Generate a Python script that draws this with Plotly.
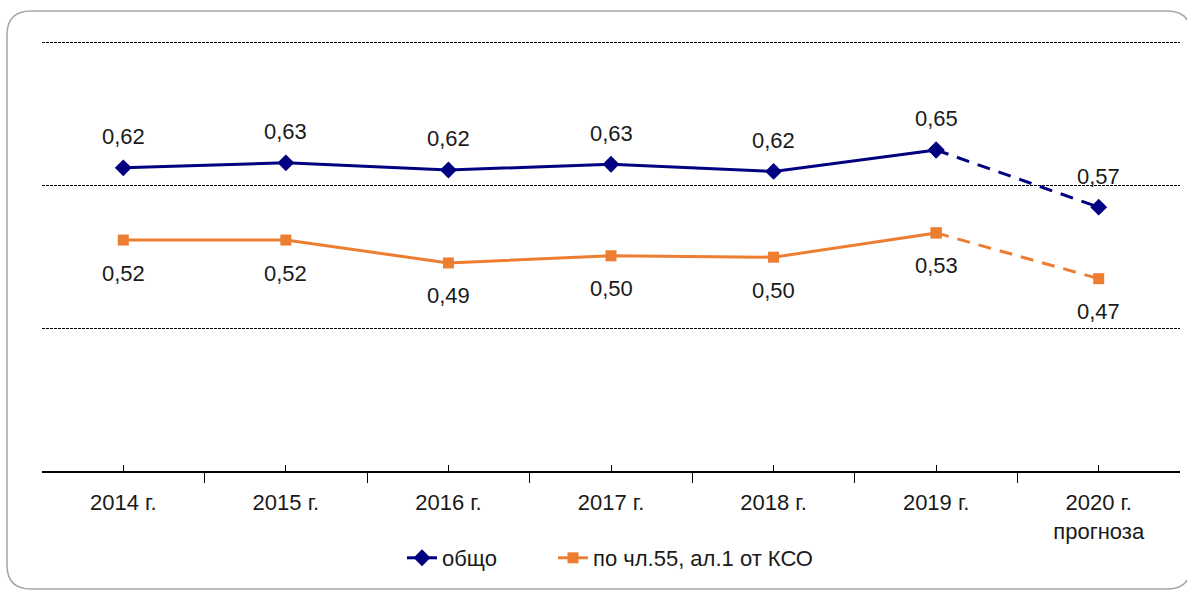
import plotly.graph_objects as go

categories = ["2014 г.", "2015 г.", "2016 г.", "2017 г.", "2018 г.", "2019 г.", "2020 г.<br>прогноза"]
total = [0.624, 0.631, 0.621, 0.629, 0.619, 0.649, 0.569]
art55 = [0.523, 0.523, 0.491, 0.501, 0.499, 0.533, 0.469]
series_names = ["общо", "по чл.55, ал.1 от КСО"]

BLUE = "#000080"
ORANGE = "#ED7D31"
FONT = "Liberation Sans, Arial, sans-serif"
TXT = "#1a1a1a"

xs = list(range(len(categories)))
n_actual = 6  # 2014-2019 solid, 2019-2020 dashed

fig = go.Figure()

def add_series(vals, name, color, symbol, size, legend):
    fig.add_trace(go.Scatter(
        x=xs[:n_actual], y=vals[:n_actual], mode="lines+markers", name=name,
        line=dict(color=color, width=3),
        marker=dict(symbol=symbol, size=size, color=color),
        hoverinfo="skip", showlegend=True, legend=legend))
    fig.add_trace(go.Scatter(
        x=xs[n_actual - 1:], y=vals[n_actual - 1:], mode="lines+markers",
        line=dict(color=color, width=3, dash="13px,9px"),
        marker=dict(symbol=symbol, size=size, color=color),
        hoverinfo="skip", showlegend=False))

add_series(total, series_names[0], BLUE, "diamond", 13, "legend")
add_series(art55, series_names[1], ORANGE, "square", 11, "legend2")

def fmt(v):
    return f"{v:.2f}".replace(".", ",")

for x, v in zip(xs, total):
    fig.add_annotation(x=x, y=v, text=fmt(v), showarrow=False, yshift=31,
                       font=dict(size=22, color=TXT, family=FONT))
for x, v in zip(xs, art55):
    fig.add_annotation(x=x, y=v, text=fmt(v), showarrow=False, yshift=-33,
                       font=dict(size=22, color=TXT, family=FONT))

# plot area pixel geometry (0.2 at y=471, 0.2 units per 143 px)
L, R, T, B = 42, 1180, 38, 471
W, H = 1187, 590
Y_MIN = 0.2
Y_MAX = Y_MIN + (B - T) * 0.2 / 143.0

def px(X):
    return (X - L) / (R - L)
def py(Y):
    return (B - Y) / (B - T)

bl, bt, br, bb, rad = 7, 11, 1191, 589, 24
path = (f"M {px(bl+rad)},{py(bt)} L {px(br-rad)},{py(bt)} Q {px(br)},{py(bt)} {px(br)},{py(bt+rad)} "
        f"L {px(br)},{py(bb-rad)} Q {px(br)},{py(bb)} {px(br-rad)},{py(bb)} "
        f"L {px(bl+rad)},{py(bb)} Q {px(bl)},{py(bb)} {px(bl)},{py(bb-rad)} "
        f"L {px(bl)},{py(bt+rad)} Q {px(bl)},{py(bt)} {px(bl+rad)},{py(bt)} Z")
fig.add_shape(type="path", path=path, xref="paper", yref="paper",
              line=dict(color="#a6a6a6", width=1.5), layer="below")

legend_common = dict(orientation="h", xanchor="left", yanchor="middle", y=py(558),
                     font=dict(size=22, color=TXT), bgcolor="rgba(0,0,0,0)")

fig.update_layout(
    width=W, height=H,
    margin=dict(l=L, r=W - R, t=T, b=H - B),
    paper_bgcolor="white", plot_bgcolor="white",
    font=dict(family=FONT, size=22, color=TXT),
    showlegend=True,
    legend=dict(x=px(402), **legend_common),
    legend2=dict(x=px(553), **legend_common),
    xaxis=dict(
        range=[-0.5, len(categories) - 0.5], tickmode="array", tickvals=xs, ticktext=categories,
        ticks="inside", ticklen=6, tickwidth=1.2, tickcolor="#000",
        showline=True, linecolor="#000", linewidth=1.5, showgrid=False, zeroline=False,
        ticklabelstandoff=11, tickfont=dict(size=22, color=TXT),
        minor=dict(ticks="outside", ticklen=10, tickwidth=1.2, tickcolor="#000",
                   tick0=-0.5, dtick=1, showgrid=False),
    ),
    yaxis=dict(
        range=[Y_MIN, Y_MAX], tickmode="array", tickvals=[0.4, 0.6, 0.8],
        showticklabels=False, ticks="", showgrid=True, gridcolor="#000", gridwidth=1,
        griddash="3px,1px", zeroline=False, showline=False,
    ),
)

fig.write_html("out.html", config={"displayModeBar": False},
               post_script="document.body.style.margin='0';document.body.style.overflow='hidden';")
